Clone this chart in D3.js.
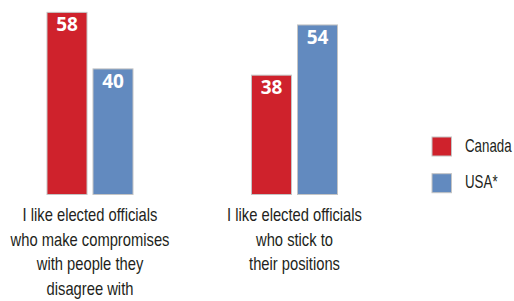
<!DOCTYPE html>
<html>
<head>
<meta charset="utf-8">
<script src="https://cdn.jsdelivr.net/npm/d3@7"></script>
<style>
  body { margin: 0; background: #fff; }
  .cat, .leg { font-family: "Liberation Sans", Arial, sans-serif; fill: #231f20; }
  .val { font-family: "Open Sans", sans-serif; font-weight: 700; fill: #fff; }
</style>
</head>
<body>
<div id="chart"></div>
<script>
// data
var categories = [
  ["I like elected officials", "who make compromises", "with people they", "disagree with"],
  ["I like elected officials", "who stick to", "their positions"]
];
var series = ["Canada", "USA*"];
var canada = [58, 38];
var usa = [40, 54];
var colors = ["#cf222c", "#628abf"];

var width = 514, height = 301;

var svg = d3.select("#chart").append("svg")
    .attr("width", width)
    .attr("height", height);

var catIdx = categories.map(function(d, i){ return i; });

// group centers
var x0 = d3.scalePoint().domain(catIdx).range([90, 294.5]);
// bars inside group
var x1 = d3.scaleBand().domain(series).range([-43, 43]).paddingInner(0.1304).paddingOuter(0);
var y = d3.scaleLinear().domain([0, 60]).range([194.5, 6.1]);
var color = d3.scaleOrdinal().domain(series).range(colors);

var rows = [];
catIdx.forEach(function(i){
  rows.push({cat: i, s: series[0], v: canada[i]});
  rows.push({cat: i, s: series[1], v: usa[i]});
});

var bars = svg.selectAll("g.bar")
  .data(rows)
  .enter().append("g")
  .attr("class", "bar");

bars.append("rect")
  .attr("x", function(d){ return x0(d.cat) + x1(d.s); })
  .attr("y", function(d){ return y(d.v); })
  .attr("width", x1.bandwidth())
  .attr("height", function(d){ return y(0) - y(d.v); })
  .style("fill", function(d){ return color(d.s); })
  .style("stroke", "#c4c4c4")
  .style("stroke-width", 1);

bars.append("text")
  .attr("class", "val")
  .attr("x", function(d){ return x0(d.cat) + x1(d.s) + x1.bandwidth()/2; })
  .attr("y", function(d){ return y(d.v) + 19; })
  .attr("text-anchor", "middle")
  .style("font-size", "19px")
  .text(function(d){ return d.v; });

// category labels (squeezed to look like a condensed face)
catIdx.forEach(function(i){
  var t = svg.append("text")
    .attr("class", "cat")
    .attr("text-anchor", "middle")
    .attr("transform", "translate(" + x0(i) + ",0) scale(0.82,1)")
    .style("font-size", "18px");
  categories[i].forEach(function(line, j){
    t.append("tspan")
      .attr("x", 0)
      .attr("y", 221 + j*24.7)
      .text(line);
  });
});

// legend
var legend = svg.selectAll("g.legend")
  .data(series)
  .enter().append("g")
  .attr("class", "legend")
  .attr("transform", function(d, i){ return "translate(432," + (137 + i*36.7) + ")"; });

legend.append("rect")
  .attr("width", 19.5)
  .attr("height", 19)
  .style("fill", function(d){ return color(d); })
  .style("stroke", "#c4c4c4")
  .style("stroke-width", 1);

legend.append("text")
  .attr("class", "leg")
  .attr("transform", "translate(33,14.5) scale(0.74,1)")
  .style("font-size", "18px")
  .text(function(d){ return d; });
</script>
</body>
</html>
